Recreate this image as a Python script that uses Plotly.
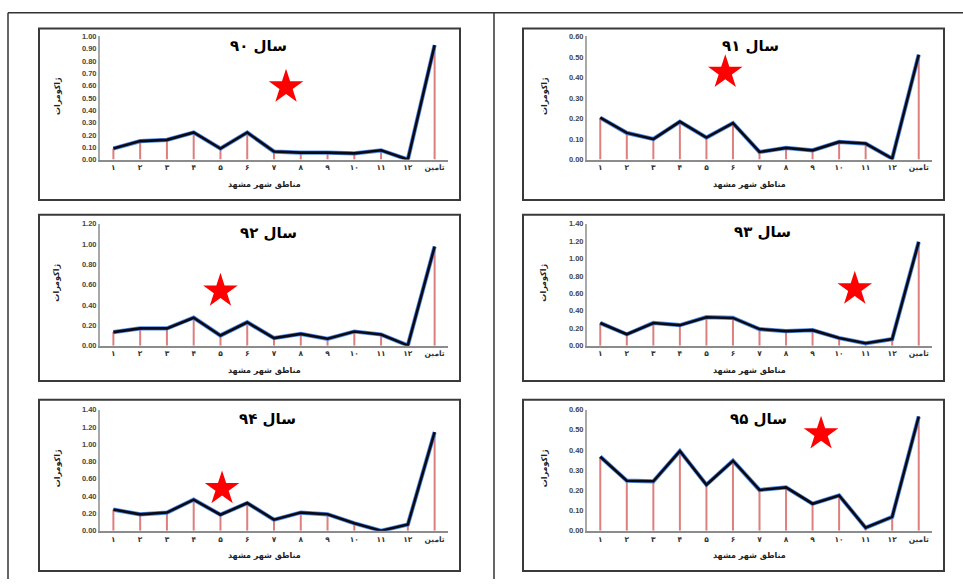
import plotly.graph_objects as go

W, H = 963, 584

categories = ["۱", "۲", "۳", "۴", "۵", "۶", "۷", "۸", "۹", "۱۰", "۱۱", "۱۲", "تامین"]
titles = ["سال ۹۰", "سال ۹۱", "سال ۹۲", "سال ۹۳", "سال ۹۴", "سال ۹۵"]
x_title = "مناطق شهر مشهد"
y_title = "ژاکومرات"

v90 = [0.09, 0.15, 0.16, 0.22, 0.09, 0.22, 0.065, 0.056, 0.056, 0.05, 0.075, 0.0, 0.93]
v91 = [0.204, 0.13, 0.10, 0.185, 0.107, 0.178, 0.037, 0.057, 0.045, 0.086, 0.078, 0.005, 0.511]
v92 = [0.133, 0.17, 0.17, 0.275, 0.10, 0.23, 0.074, 0.116, 0.068, 0.139, 0.11, 0.003, 0.974]
v93 = [0.26, 0.13, 0.26, 0.235, 0.326, 0.318, 0.19, 0.167, 0.178, 0.087, 0.027, 0.076, 1.19]
v94 = [0.245, 0.19, 0.21, 0.36, 0.185, 0.32, 0.128, 0.21, 0.19, 0.087, 0.0, 0.072, 1.14]
v95 = [0.367, 0.248, 0.245, 0.395, 0.228, 0.347, 0.202, 0.215, 0.134, 0.175, 0.015, 0.069, 0.566]
series = [v90, v91, v92, v93, v94, v95]

y_max = [1.0, 0.6, 1.2, 1.4, 1.4, 0.6]
y_step = [0.1, 0.1, 0.2, 0.2, 0.2, 0.1]
star_x = [7.45, 5.71, 5.0, 10.59, 5.06, 9.32]
star_y = [0.59, 0.425, 0.537, 0.65, 0.487, 0.48]

# layout geometry (pixels)
col_plot_x = [(100, 448), (587, 932)]
row_plot_y = [(33, 158), (223, 347), (412, 535)]
col_box_x = [(39, 460), (523, 944)]
row_box_y = [(25, 199), (214, 383), (402, 576)]
title_pos = [(258, 43), (750, 43), (268, 233), (762, 232), (267, 422), (758, 421)]


def px(x):
    return x / W


def py(y):
    return 1 - y / H


fig = go.Figure()
shapes = []
annotations = []
pos = list(range(1, len(categories) + 1))

for i, vals in enumerate(series):
    col = i % 2
    row = i // 2
    n = i + 1
    xa = "x" if n == 1 else f"x{n}"
    ya = "y" if n == 1 else f"y{n}"
    x0, x1 = col_plot_x[col]
    y0, y1 = row_plot_y[row]

    fig.add_trace(go.Bar(x=pos, y=vals, width=0.075, marker=dict(color="rgba(215,105,105,0.85)", line=dict(width=0)),
                         xaxis=xa, yaxis=ya, showlegend=False, hoverinfo="skip"))
    fig.add_trace(go.Scatter(x=pos, y=vals, mode="lines", line=dict(color="rgba(60,125,230,0.9)", width=4.2),
                             xaxis=xa, yaxis=ya, showlegend=False, hoverinfo="skip"))
    fig.add_trace(go.Scatter(x=pos, y=vals, mode="lines", line=dict(color="#0a0a14", width=2.6),
                             xaxis=xa, yaxis=ya, showlegend=False))
    fig.add_trace(go.Scatter(x=[star_x[i]], y=[star_y[i]], mode="markers",
                             marker=dict(symbol="star", size=26, color="#ff0000", line=dict(width=0)),
                             xaxis=xa, yaxis=ya, showlegend=False, hoverinfo="skip"))

    nt = int(round(y_max[i] / y_step[i]))
    tv = [round(k * y_step[i], 2) for k in range(nt + 1)]
    xkey = "xaxis" if n == 1 else f"xaxis{n}"
    ykey = "yaxis" if n == 1 else f"yaxis{n}"
    fig.layout[xkey] = dict(domain=[px(x0), px(x1)], anchor=ya, range=[0.5, 13.5],
                            tickvals=pos, ticktext=categories, showgrid=False, zeroline=False,
                            showline=True, linecolor="#8c8c8c", linewidth=1.5, ticks="",
                            tickfont=dict(family="DejaVu Sans", size=7.5, color="#333", weight="bold"),
                            fixedrange=True)
    fig.layout[ykey] = dict(domain=[py(y1), py(y0)], anchor=xa, range=[0, y_max[i]],
                            tickvals=tv, tickformat=".2f", showgrid=False, zeroline=False,
                            showline=True, linecolor="#a8a8a8", linewidth=2, ticks="",
                            tickfont=dict(family="Liberation Sans", size=7.5, color="#444", weight="bold"),
                            fixedrange=True)

    bx0, bx1 = col_box_x[col]
    by0, by1 = row_box_y[row]
    shapes.append(dict(type="rect", xref="paper", yref="paper", x0=px(bx0), x1=px(bx1), y0=py(by1), y1=py(by0),
                       line=dict(color="#3a3a3a", width=2)))

    tx, ty = title_pos[i]
    annotations.append(dict(text=titles[i], x=px(tx), y=py(ty), xref="paper", yref="paper", showarrow=False,
                            font=dict(family="DejaVu Sans", size=15, color="#000", weight="bold"),
                            xanchor="center", yanchor="middle"))
    annotations.append(dict(text=x_title, x=px((x0 + x1) / 2 - 10), y=py(y1 + 25), xref="paper", yref="paper",
                            showarrow=False, font=dict(family="DejaVu Sans", size=8, color="#222", weight="bold"),
                            xanchor="center", yanchor="middle"))
    annotations.append(dict(text=y_title, x=px(x0 - 43), y=py((y0 + y1) / 2 - 2), xref="paper", yref="paper",
                            showarrow=False, textangle=-90,
                            font=dict(family="DejaVu Sans", size=8, color="#222", weight="bold"),
                            xanchor="center", yanchor="middle"))

# outer frame lines
shapes.append(dict(type="line", xref="paper", yref="paper", x0=px(8), x1=1, y0=py(9), y1=py(9),
                   line=dict(color="#333", width=1.5)))
shapes.append(dict(type="line", xref="paper", yref="paper", x0=px(8), x1=px(8), y0=py(9), y1=0,
                   line=dict(color="#333", width=1.5)))
shapes.append(dict(type="line", xref="paper", yref="paper", x0=px(494), x1=px(494), y0=py(9), y1=0,
                   line=dict(color="#333", width=1.5)))

fig.update_layout(width=W, height=H, margin=dict(l=0, r=0, t=0, b=0), paper_bgcolor="white",
                  plot_bgcolor="rgba(0,0,0,0)", shapes=shapes, annotations=annotations,
                  barmode="overlay", showlegend=False)

fig.write_html("out.html", config={"displayModeBar": False},
               post_script="document.body.style.margin='0';document.body.style.overflow='hidden';")
